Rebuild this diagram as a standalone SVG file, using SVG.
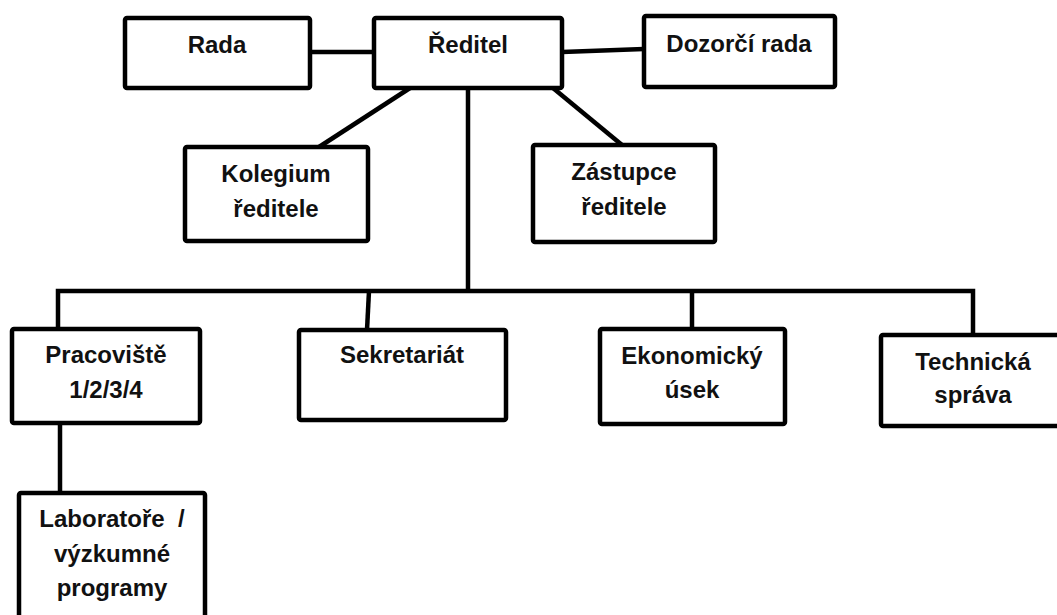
<svg xmlns="http://www.w3.org/2000/svg" width="1057" height="615" viewBox="0 0 1057 615">
<style>
.box{fill:#fff;stroke:#000;stroke-width:4.5;stroke-linejoin:round}
.t{font-family:"Liberation Sans",Arial,sans-serif;font-weight:bold;font-size:24px;fill:#111;text-anchor:middle}
.c{fill:none;stroke:#000;stroke-width:4.5;stroke-linecap:butt;stroke-linejoin:miter}
</style>
<rect width="1057" height="615" fill="#fff"/>
<g id="connectors">
<line class="c" x1="310" y1="52" x2="374" y2="52"/>
<line class="c" x1="562" y1="52" x2="644" y2="49"/>
<line class="c" x1="410" y1="88" x2="319" y2="147"/>
<line class="c" x1="553" y1="88" x2="622" y2="145"/>
<line class="c" x1="468" y1="88" x2="468" y2="291"/>
<path class="c" d="M58,329 V291 H973 V335"/>
<line class="c" x1="369" y1="291" x2="367" y2="330"/>
<line class="c" x1="692" y1="291" x2="692" y2="329"/>
<line class="c" x1="60" y1="423" x2="60" y2="493"/>
</g>
<g id="rada"><rect class="box" x="125" y="18" width="185" height="70" rx="2"/><text class="t" x="217" y="53">Rada</text></g>
<g id="reditel"><rect class="box" x="374" y="18" width="188" height="70" rx="2"/><text class="t" x="468" y="53">Ředitel</text></g>
<g id="dozorci"><rect class="box" x="644" y="16" width="191" height="71" rx="2"/><text class="t" x="739" y="52">Dozorčí rada</text></g>
<g id="kolegium"><rect class="box" x="185" y="147" width="183" height="94" rx="2"/><text class="t" x="276" y="182">Kolegium</text><text class="t" x="276" y="217">ředitele</text></g>
<g id="zastupce"><rect class="box" x="533" y="145" width="182" height="97" rx="2"/><text class="t" x="624" y="180">Zástupce</text><text class="t" x="624" y="215">ředitele</text></g>
<g id="pracoviste"><rect class="box" x="12" y="329" width="188" height="94" rx="2"/><text class="t" x="106" y="363">Pracoviště</text><text class="t" x="106" y="398">1/2/3/4</text></g>
<g id="sekretariat"><rect class="box" x="299" y="330" width="207" height="90" rx="2"/><text class="t" x="402" y="363">Sekretariát</text></g>
<g id="ekonomicky"><rect class="box" x="600" y="329" width="185" height="95" rx="2"/><text class="t" x="692" y="364">Ekonomický</text><text class="t" x="692" y="398">úsek</text></g>
<g id="technicka"><rect class="box" x="881" y="335" width="190" height="91" rx="2"/><text class="t" x="973" y="370">Technická</text><text class="t" x="973" y="403">správa</text></g>
<g id="laboratore"><rect class="box" x="19" y="493" width="186" height="140" rx="2"/><text class="t" x="112" y="527" xml:space="preserve">Laboratoře  /</text><text class="t" x="112" y="562">výzkumné</text><text class="t" x="112" y="596">programy</text></g>
</svg>
